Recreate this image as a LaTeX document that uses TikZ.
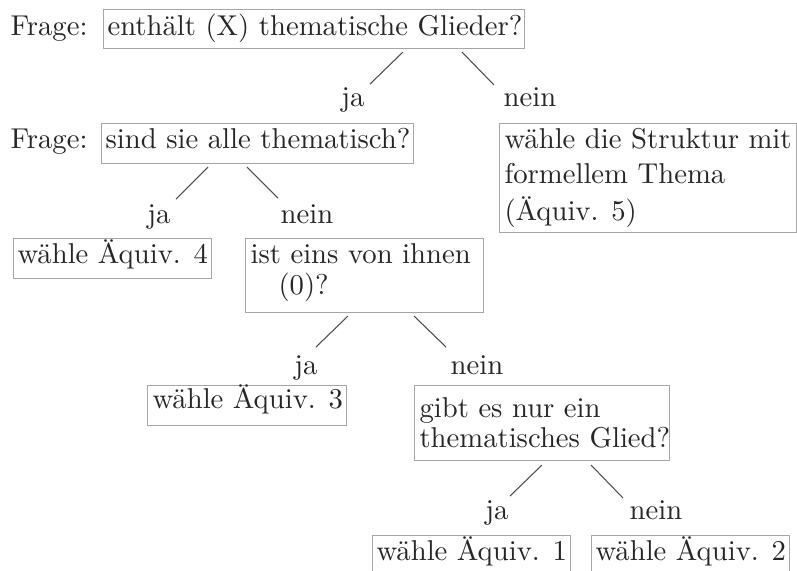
\documentclass[tikz,border=0pt]{standalone}
\usepackage{fontspec}
\usetikzlibrary{fit}
\begin{document}
\begin{tikzpicture}[x=0.3817pt,y=-0.3817pt,
  txt/.style={anchor=base west, inner sep=0pt, text=black!85, font=\fontsize{10.95}{13.6}\selectfont},
  lbl/.style={anchor=base, inner sep=0pt, text=black!85, font=\fontsize{10.95}{13.6}\selectfont},
  frame/.style={draw=black!35, line width=0.3pt, inner sep=0pt},
  conn/.style={draw=black!70, line width=0.4pt}]
\clip (0,0) rectangle (797,570);
\fill[white] (0,0) rectangle (797,570);

% frames
\node[frame, fit={(103,9) (524,48)}] (b1) {};
\node[frame, fit={(101,123) (413,163)}] (b2) {};
\node[frame, fit={(499,123) (796,232)}] (b5) {};
\node[frame, fit={(13,238) (211,278)}] (b4) {};
\node[frame, fit={(245,238) (483,312)}] (b6) {};
\node[frame, fit={(147,385) (346,425)}] (b3) {};
\node[frame, fit={(414,385) (669,460)}] (b7) {};
\node[frame, fit={(372,535) (570,600)}] (b8) {};
\node[frame, fit={(591,535) (789,600)}] (b9) {};

% texts
\node[txt] (q1) at (10,35) {Frage:};
\node[txt] (t1) at (107,35) {enthält (X) thematische Glieder?};
\node[txt] (q2) at (10,148) {Frage:};
\node[txt] (t2) at (105,148) {sind sie alle thematisch?};
\node[txt] (t5a) at (504,148) {wähle die Struktur mit};
\node[txt] (t5b) at (504,183) {formellem Thema};
\node[txt] (t5c) at (504,220) {(Äquiv. 5)};
\node[txt] (t4) at (17,263) {wähle Äquiv. 4};
\node[txt] (t6a) at (250,263) {ist eins von ihnen};
\node[txt] (t6b) at (278,294) {(0)?};
\node[txt] (t3) at (152,408) {wähle Äquiv. 3};
\node[txt] (t7a) at (419,417) {gibt es nur ein};
\node[txt] (t7b) at (419,447) {thematisches Glied?};
\node[txt] (t8) at (376,560) {wähle Äquiv. 1};
\node[txt] (t9) at (595,560) {wähle Äquiv. 2};

% branch labels
\node[lbl] (ja1) at (353,106) {ja};
\node[lbl] (nein1) at (530,106) {nein};
\node[lbl] (ja2) at (159,223) {ja};
\node[lbl] (nein2) at (307,223) {nein};
\node[lbl] (ja3) at (306,374) {ja};
\node[lbl] (nein3) at (477,374) {nein};
\node[lbl] (ja4) at (497,519) {ja};
\node[lbl] (nein4) at (656,519) {nein};

% connector end points
\coordinate (c1a) at (403,52);  \coordinate (c1b) at (370,84);
\coordinate (c1c) at (462,52);  \coordinate (c1d) at (494,85);
\coordinate (c2a) at (208,167); \coordinate (c2b) at (176,199);
\coordinate (c2c) at (247,167); \coordinate (c2d) at (278,198);
\coordinate (c3a) at (348,316); \coordinate (c3b) at (316,347);
\coordinate (c3c) at (414,316); \coordinate (c3d) at (446,347);
\coordinate (c4a) at (542,465); \coordinate (c4b) at (510,496);
\coordinate (c4c) at (591,465); \coordinate (c4d) at (623,498);

\draw[conn] (c1a) -- (c1b);
\draw[conn] (c1c) -- (c1d);
\draw[conn] (c2a) -- (c2b);
\draw[conn] (c2c) -- (c2d);
\draw[conn] (c3a) -- (c3b);
\draw[conn] (c3c) -- (c3d);
\draw[conn] (c4a) -- (c4b);
\draw[conn] (c4c) -- (c4d);
\end{tikzpicture}
\end{document}
